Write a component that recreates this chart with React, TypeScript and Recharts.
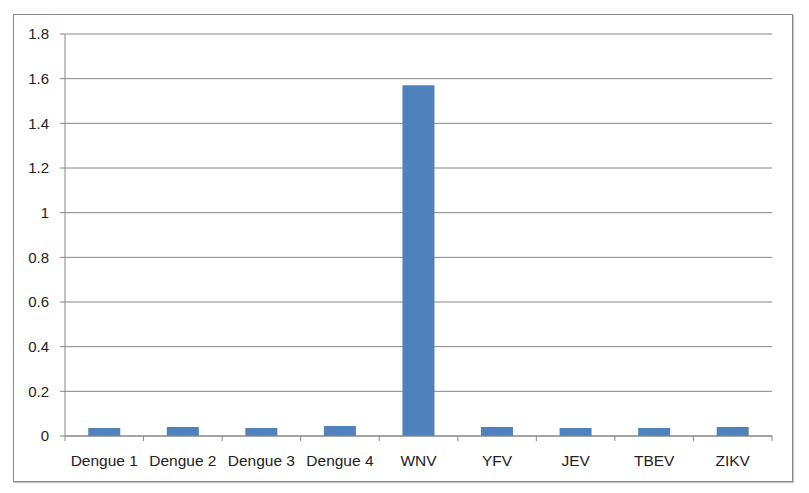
// Virus comparison bar chart, Excel-style layout
import { BarChart, Bar, XAxis, YAxis, CartesianGrid } from 'recharts';

const categories = ['Dengue 1', 'Dengue 2', 'Dengue 3', 'Dengue 4', 'WNV', 'YFV', 'JEV', 'TBEV', 'ZIKV'];
const values = [0.036, 0.04, 0.036, 0.045, 1.57, 0.04, 0.036, 0.036, 0.04];
const yTicks = [0, 0.2, 0.4, 0.6, 0.8, 1, 1.2, 1.4, 1.6, 1.8];

const data = categories.map((name, i) => ({ name, value: values[i] }));

const AXIS_COLOR = '#868686';
const FONT = "'Liberation Sans', Arial, sans-serif";
const TICK_SIZE = 5;
const TICK_MARGIN = 14;

// category tick: label at band centre, tick marks on band edges (Excel style)
function CategoryTick(props: any) {
  const { x, y, payload, index, visibleTicksCount } = props;
  const half = payload?.offset ?? 0;
  const lineTop = y - TICK_SIZE - TICK_MARGIN;
  const lineBottom = lineTop + TICK_SIZE;
  const isLast = index === (visibleTicksCount ?? categories.length) - 1;
  return (
    <g>
      <line x1={x - half} x2={x - half} y1={lineTop} y2={lineBottom} stroke={AXIS_COLOR} />
      {isLast && <line x1={x + half} x2={x + half} y1={lineTop} y2={lineBottom} stroke={AXIS_COLOR} />}
      <text x={x} y={y} dy="0.71em" textAnchor="middle" fill="#222" fontSize={15.5} fontFamily={FONT}>
        {payload.value}
      </text>
    </g>
  );
}

export default function App() {
  return (
    <div style={{ position: 'absolute', left: 0, top: 0, width: 809, height: 493, background: '#fff' }}>
      <div
        style={{
          position: 'absolute',
          left: 13,
          top: 14,
          width: 778,
          height: 466,
          border: '1.5px solid #8a8a8a',
          boxShadow: '1px 1px 1px #c8c8c8'
        }}
      />
      <div style={{ position: 'absolute', left: 0, top: 0 }}>
        <BarChart
          width={809}
          height={493}
          data={data}
          margin={{ top: 34, right: 37, left: 0, bottom: 0 }}
          barCategoryGap="29.6%"
        >
          <CartesianGrid horizontal vertical={false} stroke={AXIS_COLOR} />
          <XAxis
            dataKey="name"
            axisLine={{ stroke: AXIS_COLOR }}
            tickLine={false}
            tickSize={TICK_SIZE}
            tickMargin={TICK_MARGIN}
            interval={0}
            height={57}
            tick={<CategoryTick />}
          />
          <YAxis
            domain={[0, 1.8]}
            ticks={yTicks}
            width={65}
            axisLine={{ stroke: AXIS_COLOR }}
            tickLine={{ stroke: AXIS_COLOR }}
            tickSize={5}
            tickMargin={11}
            tick={{ fill: '#222', fontSize: 15, fontFamily: FONT }}
          />
          <Bar dataKey="value" fill="#4F81BD" isAnimationActive={false} />
        </BarChart>
      </div>
    </div>
  );
}
